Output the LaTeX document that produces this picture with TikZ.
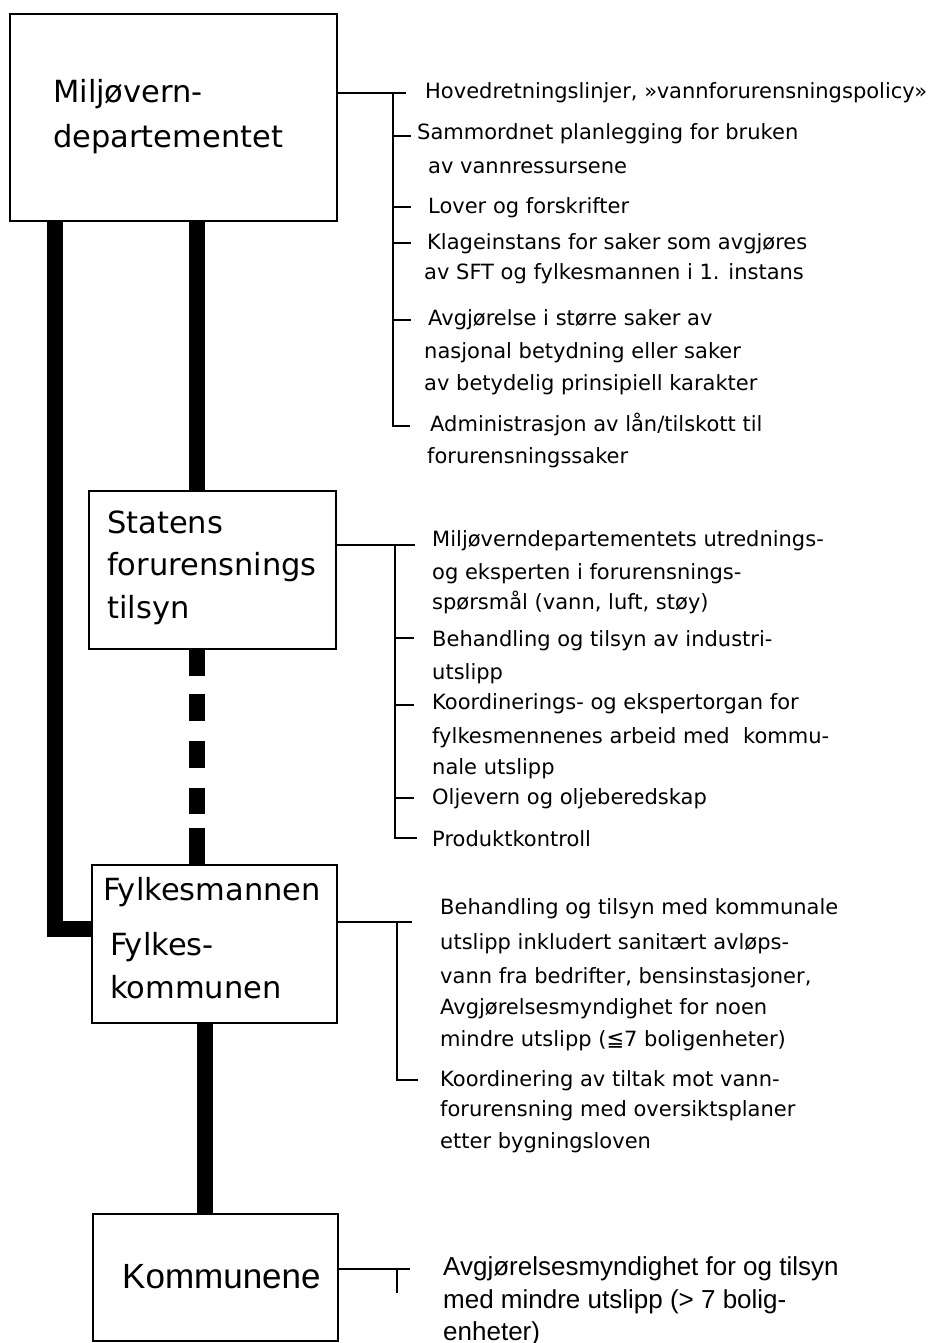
\documentclass[tikz,border=0pt]{standalone}
\usepackage{fontspec}
\setmainfont{DejaVu Sans}
\newfontfamily\narrowfont{Liberation Sans}
\begin{document}
\begin{tikzpicture}[x=1pt,y=-1pt,
  box/.style={draw,line width=2.4pt,inner sep=0pt},
  bar/.style={line width=15.5pt},
  conn/.style={line width=2pt},
  big/.style={anchor=base west,inner sep=0pt,font=\fontsize{30.5}{36}\selectfont},
  itm/.style={anchor=base west,inner sep=0pt,font=\fontsize{21}{25}\selectfont},
  nitm/.style={anchor=base west,inner sep=0pt,font=\narrowfont\fontsize{26}{30}\selectfont},
]
\useasboundingbox (0,0) rectangle (932,1343);

% boxes
\node[box,minimum width=327pt,minimum height=207pt] (mdep) at (173.5,117.5) {};
\node[box,minimum width=247pt,minimum height=158pt] (sft) at (212.5,570) {};
\node[box,minimum width=245pt,minimum height=158pt] (fylke) at (214.5,944) {};
\node[box,minimum width=245pt,minimum height=127pt] (komm) at (215.5,1277.5) {};

% box texts
\node[big] (t1a) at (53,103) {Miljøvern-};
\node[big] (t1b) at (53,148) {departementet};
\node[big] (t2a) at (107,533) {Statens};
\node[big] (t2b) at (107,575) {forurensnings};
\node[big] (t2c) at (107,618) {tilsyn};
\node[big] (t3a) at (103,900) {Fylkesmannen};
\node[big] (t3b) at (110,955) {Fylkes-};
\node[big] (t3c) at (110,998) {kommunen};
\node[anchor=base west,inner sep=0pt,font=\narrowfont\fontsize{35}{40}\selectfont] (t4a) at (122,1288) {Kommunene};

% thick bars
\coordinate (xl) at (55,0);
\coordinate (xc) at (197,0);
\coordinate (xb) at (205,0);
\draw[bar] (mdep.south -| xl) |- ([yshift=15pt]fylke.west);
\draw[bar] (mdep.south -| xc) -- (sft.north -| xc);
\draw[bar,dash pattern=on 26pt off 18pt on 27pt off 20pt on 27pt off 20pt on 26pt off 14pt on 60pt] (sft.south -| xc) -- (fylke.north -| xc);
\draw[bar] (fylke.south -| xb) -- (komm.north -| xb);

% connectors box 1
\coordinate (j1) at (393,93);
\coordinate (e1) at (393,426);
\draw[conn] (mdep.east |- j1) -- (j1) -- ++(13,0);
\draw[conn] (j1) -- (e1) -- ++(17,0);
\foreach \y in {136,207,243,320} \draw[conn] (393,\y) -- ++(18,0);

% connectors box 2
\coordinate (j2) at (395,545);
\coordinate (e2) at (395,838);
\draw[conn] (sft.east |- j2) -- (j2) -- ++(20,0);
\draw[conn] (j2) -- (e2) -- ++(22,0);
\foreach \y in {638,705,798} \draw[conn] (395,\y) -- ++(19,0);

% connectors box 3
\coordinate (j3) at (397,922);
\coordinate (e3) at (397,1080);
\draw[conn] (fylke.east |- j3) -- (j3) -- ++(15,0);
\draw[conn] (j3) -- (e3) -- ++(21,0);

% connectors box 4
\coordinate (j4) at (397,1269);
\draw[conn] (komm.east |- j4) -- (j4) -- ++(13,0);
\draw[conn] (j4) -- ++(0,24);

% items box 1
\node[itm] (a1) at (425,99) {Hovedretningslinjer, »vannforurensningspolicy»};
\node[itm] (a2) at (417,140) {Sammordnet planlegging for bruken};
\node[itm] (a3) at (428,174) {av vannressursene};
\node[itm] (a4) at (428,213) {Lover og forskrifter};
\node[itm] (a5) at (427,249) {Klageinstans for saker som avgjøres};
\node[itm] (a6) at (424,279) {av SFT og fylkesmannen i 1. instans};
\node[itm] (a7) at (428,325) {Avgjørelse i større saker av};
\node[itm] (a8) at (424,358) {nasjonal betydning eller saker};
\node[itm] (a9) at (424,390) {av betydelig prinsipiell karakter};
\node[itm] (a10) at (430,431) {Administrasjon av lån/tilskott til};
\node[itm] (a11) at (427,463) {forurensningssaker};

% items box 2
\node[itm] (b1) at (432,546) {Miljøverndepartementets utrednings-};
\node[itm] (b2) at (432,579) {og eksperten i forurensnings-};
\node[itm] (b3) at (432,609) {spørsmål (vann, luft, støy)};
\node[itm] (b4) at (432,646) {Behandling og tilsyn av industri-};
\node[itm] (b5) at (432,679) {utslipp};
\node[itm] (b6) at (432,709) {Koordinerings- og ekspertorgan for};
\node[itm] (b7) at (432,743) {fylkesmennenes arbeid med\ \ kommu-};
\node[itm] (b8) at (432,774) {nale utslipp};
\node[itm] (b9) at (432,804) {Oljevern og oljeberedskap};
\node[itm] (b10) at (432,846) {Produktkontroll};

% items box 3
\node[itm] (c1) at (440,914) {Behandling og tilsyn med kommunale};
\node[itm] (c2) at (440,949) {utslipp inkludert sanitært avløps-};
\node[itm] (c3) at (440,983) {vann fra bedrifter, bensinstasjoner,};
\node[itm] (c4) at (440,1014) {Avgjørelsesmyndighet for noen};
\node[itm] (c5) at (440,1046) {mindre utslipp (≦7 boligenheter)};
\node[itm] (c6) at (440,1086) {Koordinering av tiltak mot vann-};
\node[itm] (c7) at (440,1116) {forurensning med oversiktsplaner};
\node[itm] (c8) at (440,1148) {etter bygningsloven};

% items box 4
\node[nitm] (d1) at (443,1275) {Avgjørelsesmyndighet for og tilsyn};
\node[nitm] (d2) at (443,1308) {med mindre utslipp (> 7 bolig-};
\node[nitm] (d3) at (443,1340) {enheter)};
\end{tikzpicture}
\end{document}
